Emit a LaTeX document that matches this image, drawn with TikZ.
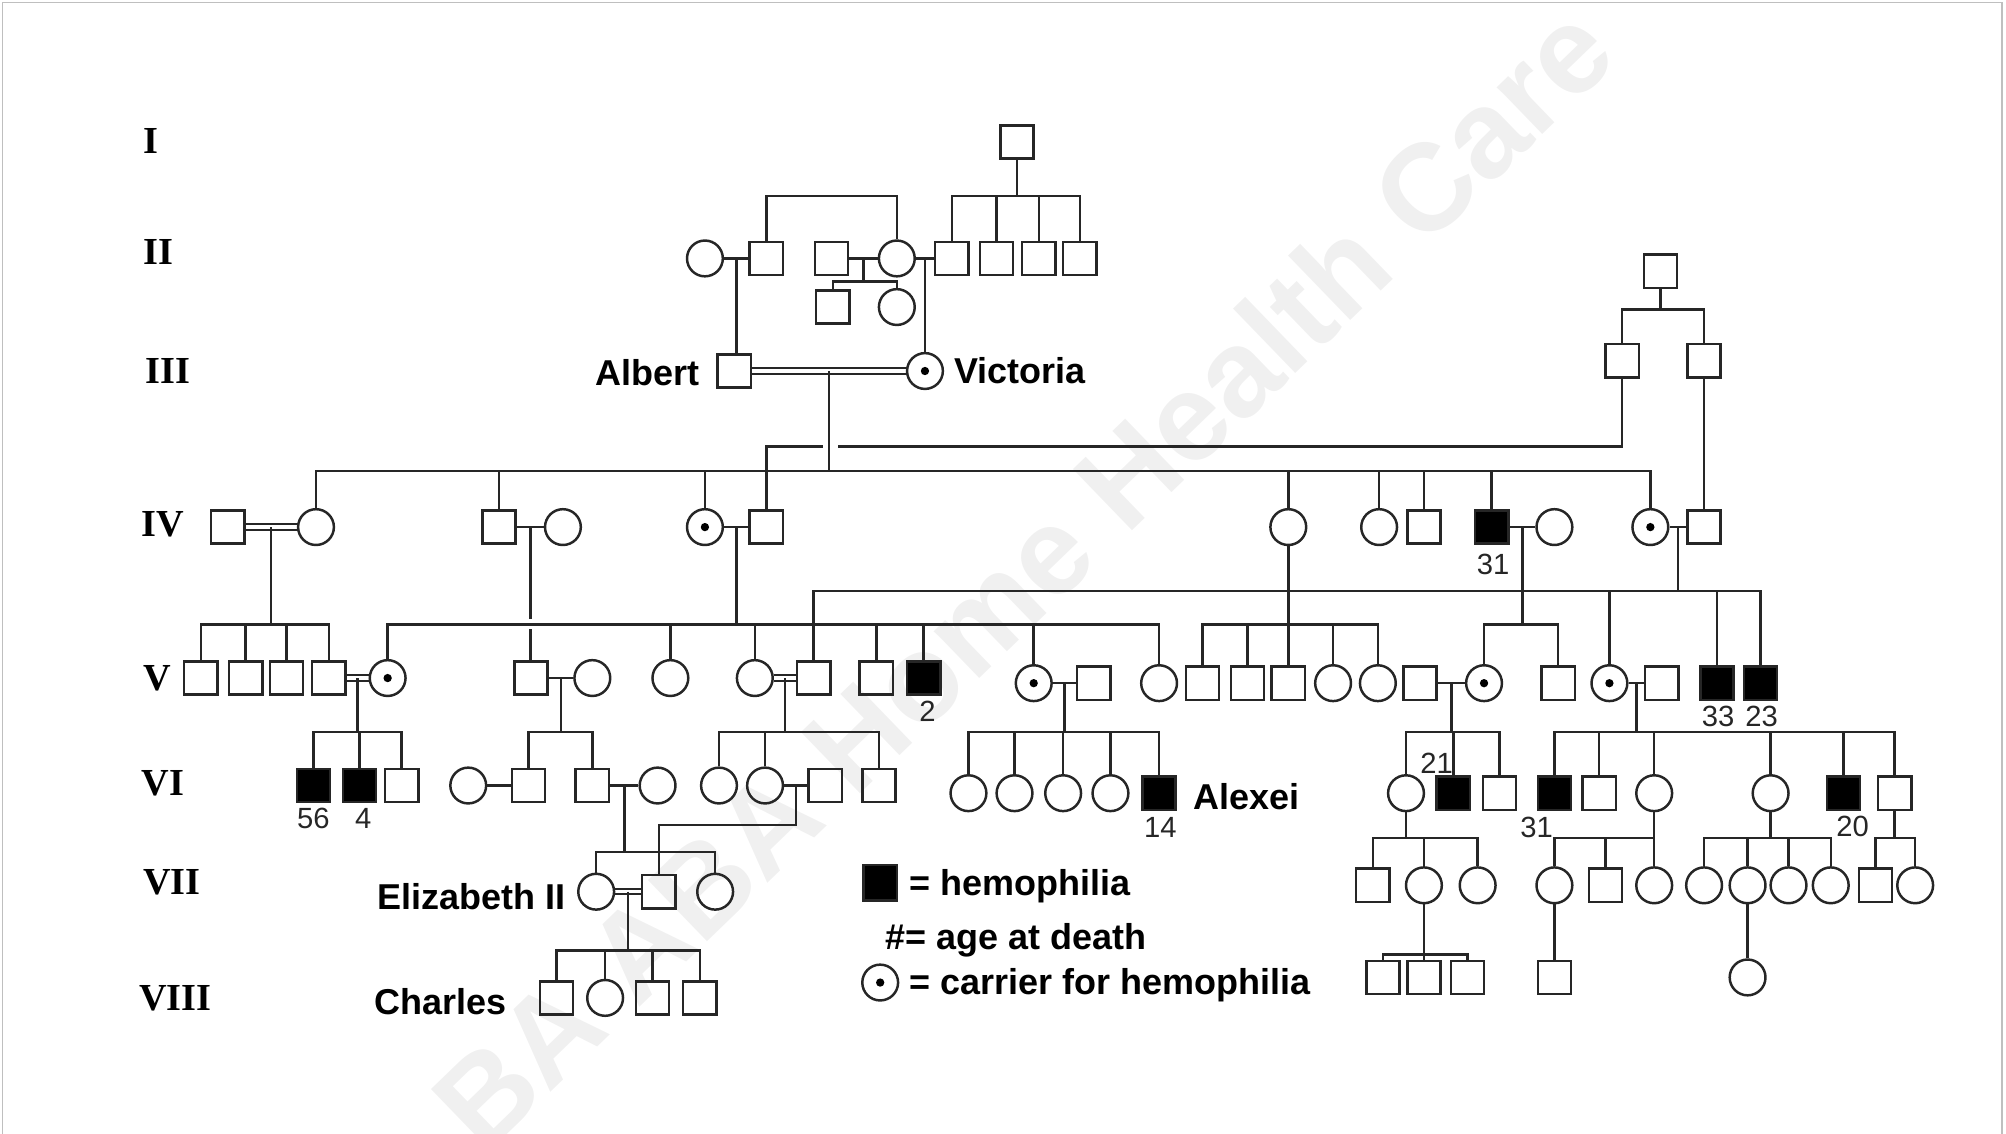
\documentclass[tikz,border=0pt]{standalone}
\usepackage{fontspec}
\setmainfont{Liberation Sans}
\newfontfamily\gserif{Liberation Serif}
\usetikzlibrary{calc}
\newcommand{\dmar}[2]{\draw[line width=0.9pt] ([yshift=0.042cm]#1.east) -- ([yshift=0.042cm]#2.west); \draw[line width=0.9pt] ([yshift=-0.042cm]#1.east) -- ([yshift=-0.042cm]#2.west);}
\begin{document}
\begin{tikzpicture}[x=0.02cm, y=-0.02cm, line width=1.1pt, color=black!85,
  sq/.style={draw=black!85, rectangle, minimum size=0.52cm, inner sep=0pt},
  ci/.style={draw=black!85, circle, minimum size=0.56cm, inner sep=0pt},
  aff/.style={sq, fill=black},
  car/.style={ci, path picture={\fill[black] (path picture bounding box.center) circle (0.065cm);}},
  lbl/.style={font=\fontsize{16}{18}\selectfont\bfseries, inner sep=0pt, text=black},
  gen/.style={font=\gserif\fontsize{17}{19}\selectfont\bfseries, inner sep=0pt, anchor=west, text=black},
  age/.style={font=\fontsize{13}{14}\selectfont, inner sep=0pt, text=black!85}]
\useasboundingbox (0,0) rectangle (1568,886);
% watermark
\begin{scope}
\clip (0,0) rectangle (1568,886);
\node[rotate=44, anchor=base west, inner sep=0pt, text=black!6, font=\fontsize{55}{60}\selectfont\bfseries] (wm) at (378,905) {BA ABA Home Health Care};
\end{scope}
% frame
\draw[gray!50, line width=0.8pt] (2,886) -- (2,2) -- (1565,2) -- (1565,886);
% generation labels
\node[gen] (gI) at (111,110) {I};
\node[gen] (gII) at (111,197) {II};
\node[gen] (gIII) at (113,290) {III};
\node[gen] (gIV) at (110,410) {IV};
\node[gen] (gV) at (111,530) {V};
\node[gen] (gVI) at (110,612) {VI};
\node[gen] (gVII) at (111,690) {VII};
\node[gen] (gVIII) at (108,780) {VIII};
% ---------- generation I / II
\node[sq] (g1) at (795,111) {};
\node[ci] (amo) at (551,202) {};
\node[sq] (afa) at (599,202) {};
\node[sq] (vh1) at (650,202) {};
\node[ci] (vmo) at (701,202) {};
\node[sq] (vfa) at (744,202) {};
\node[sq] (k2) at (779,202) {};
\node[sq] (k3) at (812,202) {};
\node[sq] (k4) at (844,202) {};
\node[sq] (hs1) at (651,240) {};
\node[ci] (hs2) at (701,240) {};
% ---------- generation III
\node[sq] (albert) at (574,290) {};
\node[car] (victoria) at (723,290) {};
\node[sq] (bt) at (1298,212) {};
\node[sq] (bt1) at (1268,282) {};
\node[sq] (bt2) at (1332,282) {};
% ---------- generation IV
\node[sq] (fred) at (178,412) {};
\node[ci] (vicky) at (247,412) {};
\node[sq] (edw) at (390,412) {};
\node[ci] (alexa) at (440,412) {};
\node[car] (alice) at (551,412) {};
\node[sq] (louis) at (599,412) {};
\node[ci] (c4a) at (1007,412) {};
\node[ci] (c4b) at (1078,412) {};
\node[sq] (s4c) at (1113,412) {};
\node[aff] (leo) at (1166,412) {};
\node[ci] (leow) at (1215,412) {};
\node[car] (bea) at (1290,412) {};
\node[sq] (henry) at (1332,412) {};
% ---------- generation V
\node[sq] (v1) at (157,530) {};
\node[sq] (v2) at (192,530) {};
\node[sq] (v3) at (224,530) {};
\node[sq] (henryp) at (257,530) {};
\node[car] (irene) at (303,530) {};
\node[sq] (george) at (415,530) {};
\node[ci] (mary) at (463,530) {};
\node[ci] (v5c) at (524,530) {};
\node[ci] (vhesse) at (590,530) {};
\node[sq] (louisb) at (636,530) {};
\node[sq] (v5s) at (685,530) {};
\node[aff] (frit) at (722,530) {};
\node[car] (alix) at (808,534) {};
\node[sq] (nicky) at (855,534) {};
\node[ci] (v5d) at (906,534) {};
\node[sq] (h1) at (940,534) {};
\node[sq] (h2) at (975,534) {};
\node[sq] (h3) at (1007,534) {};
\node[ci] (h4) at (1042,534) {};
\node[ci] (h5) at (1077,534) {};
\node[sq] (alex) at (1110,534) {};
\node[car] (alba) at (1160,534) {};
\node[sq] (charlesa) at (1218,534) {};
\node[car] (ena) at (1258,534) {};
\node[sq] (alf) at (1299,534) {};
\node[aff] (leopb) at (1342,534) {};
\node[aff] (maur) at (1376,534) {};
% ---------- generation VI
\node[aff] (w1) at (245,614) {};
\node[aff] (w2) at (281,614) {};
\node[sq] (w3) at (314,614) {};
\node[ci] (wal) at (366,614) {};
\node[sq] (david) at (413,614) {};
\node[sq] (gvi) at (463,614) {};
\node[ci] (eliz) at (514,614) {};
\node[ci] (c6a) at (562,614) {};
\node[ci] (alicb) at (598,614) {};
\node[sq] (andrew) at (645,614) {};
\node[sq] (s6b) at (687,614) {};
\node[ci] (od1) at (757,620) {};
\node[ci] (od2) at (793,620) {};
\node[ci] (od3) at (831,620) {};
\node[ci] (od4) at (868,620) {};
\node[aff] (alexei) at (906,620) {};
\node[ci] (c6c) at (1099,620) {};
\node[aff] (rupert) at (1136,620) {};
\node[sq] (s6d) at (1172,620) {};
\node[aff] (alfonso) at (1215,620) {};
\node[sq] (jaime) at (1250,620) {};
\node[ci] (c6e) at (1293,620) {};
\node[ci] (c6f) at (1384,620) {};
\node[aff] (gonz) at (1441,620) {};
\node[sq] (juan) at (1481,620) {};
% ---------- generation VII
\node[ci] (eliz2) at (466,697) {};
\node[sq] (philip) at (515,697) {};
\node[ci] (margaret) at (559,697) {};
\node[sq] (r1) at (1073,692) {};
\node[ci] (r2) at (1113,692) {};
\node[ci] (r3) at (1155,692) {};
\node[ci] (r4) at (1215,692) {};
\node[sq] (r5) at (1255,692) {};
\node[ci] (r6) at (1293,692) {};
\node[ci] (r7) at (1332,692) {};
\node[ci] (r8) at (1366,692) {};
\node[ci] (r9) at (1398,692) {};
\node[ci] (r10) at (1431,692) {};
\node[sq] (r11) at (1466,692) {};
\node[ci] (r12) at (1497,692) {};
% ---------- generation VIII
\node[sq] (charles) at (435,780) {};
\node[ci] (anne) at (473,780) {};
\node[sq] (andrewp) at (510,780) {};
\node[sq] (edwardp) at (547,780) {};
\node[sq] (q1) at (1081,764) {};
\node[sq] (q2) at (1113,764) {};
\node[sq] (q3) at (1147,764) {};
\node[sq] (q4) at (1215,764) {};
\node[ci] (q5) at (1366,764) {};
% ---------- names and ages
\node[lbl, anchor=base east] (lAl) at (548,301) {Albert};
\node[lbl, anchor=base west] (lVi) at (745,300) {Victoria};
\node[lbl, anchor=base west] (lAx) at (932,633) {Alexei};
\node[lbl, anchor=base east] (lEl) at (443,711) {Elizabeth II};
\node[lbl, anchor=base east] (lCh) at (397,793) {Charles};
\node[age] (a31) at (1167,441) {31};
\node[age] (a2) at (725,556) {2};
\node[age] (a33) at (1343,560) {33};
\node[age] (a23) at (1377,560) {23};
\node[age] (a56) at (245,640) {56};
\node[age] (a4) at (284,640) {4};
\node[age] (a14) at (907,647) {14};
\node[age] (a21) at (1123,597) {21};
\node[age] (a31b) at (1201,647) {31};
\node[age] (a20) at (1448,646) {20};
% ---------- legend
\node[aff, minimum width=0.52cm, minimum height=0.56cm] (legA) at (688,690) {};
\node[lbl, anchor=base west] (legAt) at (710,700) {= hemophilia};
\node[lbl, anchor=base west] (legBt) at (691,742) {\#= age at death};
\node[car] (legC) at (688,768) {};
\node[lbl, anchor=base west] (legCt) at (710,777) {= carrier for hemophilia};
% =============== connectors
% gen I children
\coordinate (b1) at (795,153);
\draw (g1.south) -- (b1);
\draw (vfa.north) |- (b1) -| (k4.north);
\draw (k2.north) -- (k2.north |- b1);
\draw (k3.north) -- (k3.north |- b1);
% half siblings
\coordinate (b2) at (650,153);
\draw (afa.north) |- (b2) -| (vmo.north);
% gen II marriages
\draw (amo.east) -- (afa.west);
\draw (vh1.east) -- (vmo.west);
\draw (vmo.east) -- (vfa.west);
\coordinate (m1) at ($(amo.east)!0.5!(afa.west)$);
\draw (m1) -- (m1 |- albert.north);
\coordinate (m2) at ($(vh1.east)!0.5!(vmo.west)$);
\coordinate (b3) at (675,220);
\draw (m2) -- (m2 |- b3);
\draw (hs1.north) |- (b3) -| (hs2.north);
\coordinate (m3) at ($(vmo.east)!0.5!(vfa.west)$);
\draw (m3) -- (m3 |- victoria.north);
% Albert = Victoria
\dmar{albert}{victoria}
\coordinate (m4) at ($(albert.east)!0.5!(victoria.west)$);
\coordinate (b5) at (649,368);
\draw (m4) -- (m4 |- b5);
\draw (vicky.north) |- (b5) -| (bea.north);
\foreach \n in {edw,alice,c4a,c4b,s4c,leo} \draw (\n.north) -- (\n.north |- b5);
% right top family
\coordinate (b4) at (1298,242);
\draw (bt.south) -- (b4);
\draw (bt1.north) |- (b4) -| (bt2.north);
\coordinate (gR) at (655,349);
\coordinate (gL) at (643,349);
\draw (bt1.south) |- (gR);
\draw (gL) -| (louis.north);
\draw (bt2.south) -- (henry.north);
% gen IV marriages
\dmar{fred}{vicky}
\draw (edw.east) -- (alexa.west);
\draw (alice.east) -- (louis.west);
\draw (leo.east) -- (leow.west);
\draw (bea.east) -- (henry.west);
% gen IV -> V
\coordinate (m5) at ($(fred.east)!0.5!(vicky.west)$);
\coordinate (b7) at (212,488);
\draw (m5) -- (m5 |- b7);
\draw (v1.north) |- (b7) -| (henryp.north);
\foreach \n in {v2,v3} \draw (\n.north) -- (\n.north |- b7);
\coordinate (m6) at ($(edw.east)!0.5!(alexa.west)$);
\coordinate (gT) at (415,484);
\coordinate (gB) at (415,492);
\draw (m6) -- (m6 |- gT);
\draw (m6 |- gB) -- (m6 |- george.north);
\coordinate (m7) at ($(alice.east)!0.5!(louis.west)$);
\coordinate (b8) at (575,488);
\draw (m7) -- (m7 |- b8);
\draw (irene.north) |- (b8) -| (v5d.north);
\foreach \n in {v5c,vhesse,v5s,frit,alix} \draw (\n.north) -- (\n.north |- b8);
\coordinate (b9) at (1007,488);
\draw (c4a.south) -- (h3.north);
\draw (h1.north) |- (b9) -| (h5.north);
\foreach \n in {h2,h4} \draw (\n.north) -- (\n.north |- b9);
\coordinate (m8) at ($(leo.east)!0.5!(leow.west)$);
\coordinate (b10) at (1190,488);
\draw (m8) -- (m8 |- b10);
\draw (alba.north) |- (b10) -| (charlesa.north);
\coordinate (m9) at ($(bea.east)!0.5!(henry.west)$);
\coordinate (b11) at (1311,462);
\draw (m9) -- (m9 |- b11);
\draw (louisb.north) |- (b11) -| (maur.north);
\foreach \n in {ena,leopb} \draw (\n.north) -- (\n.north |- b11);
% gen V marriages
\dmar{henryp}{irene}
\draw (george.east) -- (mary.west);
\dmar{vhesse}{louisb}
\draw (alix.east) -- (nicky.west);
\draw (alex.east) -- (alba.west);
\draw (ena.east) -- (alf.west);
% gen V -> VI
\coordinate (m10) at ($(henryp.east)!0.5!(irene.west)$);
\coordinate (b12) at (281,572);
\draw (m10) -- (m10 |- b12);
\draw (w1.north) |- (b12) -| (w3.north);
\draw (w2.north) -- (w2.north |- b12);
\coordinate (m11) at ($(george.east)!0.5!(mary.west)$);
\coordinate (b13) at (439,572);
\draw (m11) -- (m11 |- b13);
\draw (david.north) |- (b13) -| (gvi.north);
\coordinate (m12) at ($(vhesse.east)!0.5!(louisb.west)$);
\coordinate (b14) at (613,572);
\draw (m12) -- (m12 |- b14);
\draw (c6a.north) |- (b14) -| (s6b.north);
\draw (alicb.north) -- (alicb.north |- b14);
\coordinate (m13) at ($(alix.east)!0.5!(nicky.west)$);
\coordinate (b15) at (832,572);
\draw (m13) -- (m13 |- b15);
\draw (od1.north) |- (b15) -| (alexei.north);
\foreach \n in {od2,od3,od4} \draw (\n.north) -- (\n.north |- b15);
\coordinate (m14) at ($(alex.east)!0.5!(alba.west)$);
\coordinate (b16) at (1135,572);
\draw (m14) -- (m14 |- b16);
\draw (c6c.north) |- (b16) -| (s6d.north);
\draw (rupert.north) -- (rupert.north |- b16);
\coordinate (m15) at ($(ena.east)!0.5!(alf.west)$);
\coordinate (b17) at (1279,572);
\draw (m15) -- (m15 |- b17);
\draw (alfonso.north) |- (b17) -| (juan.north);
\foreach \n in {jaime,c6e,c6f,gonz} \draw (\n.north) -- (\n.north |- b17);
% gen VI marriages
\draw (wal.east) -- (david.west);
\draw (gvi.east) -- (eliz.west);
\draw (alicb.east) -- (andrew.west);
% gen VI -> VII
\coordinate (m16) at ($(gvi.east)!0.5!(eliz.west)$);
\coordinate (b18) at (488,666);
\draw (m16) -- (m16 |- b18);
\draw (eliz2.north) |- (b18) -| (margaret.north);
\coordinate (m17) at ($(alicb.east)!0.5!(andrew.west)$);
\coordinate (ph) at (622,645);
\draw (m17) -- (m17 |- ph) -| (philip.north);
\coordinate (b20) at (1099,655);
\draw (c6c.south) -- (b20);
\draw (r1.north) |- (b20) -| (r3.north);
\draw (r2.north) -- (r2.north |- b20);
\coordinate (b21) at (1293,655);
\draw (c6e.south) -- (r6.north);
\draw (r4.north) |- (b21);
\draw (r5.north) -- (r5.north |- b21);
\coordinate (b22) at (1384,655);
\draw (c6f.south) -- (b22);
\draw (r7.north) |- (b22) -| (r10.north);
\foreach \n in {r8,r9} \draw (\n.north) -- (\n.north |- b22);
\coordinate (b23) at (1481,655);
\draw (juan.south) -- (b23);
\draw (r11.north) |- (b23) -| (r12.north);
% gen VII marriage and -> VIII
\dmar{eliz2}{philip}
\coordinate (m18) at ($(eliz2.east)!0.5!(philip.west)$);
\coordinate (b19) at (490,743);
\draw (m18) -- (m18 |- b19);
\draw (charles.north) |- (b19) -| (edwardp.north);
\foreach \n in {anne,andrewp} \draw (\n.north) -- (\n.north |- b19);
\coordinate (b24) at (1113,746);
\draw (r2.south) -- (q2.north);
\draw (q1.north) |- (b24) -| (q3.north);
\draw (r4.south) -- (q4.north);
\draw (r8.south) -- (q5.north);
\end{tikzpicture}
\end{document}
